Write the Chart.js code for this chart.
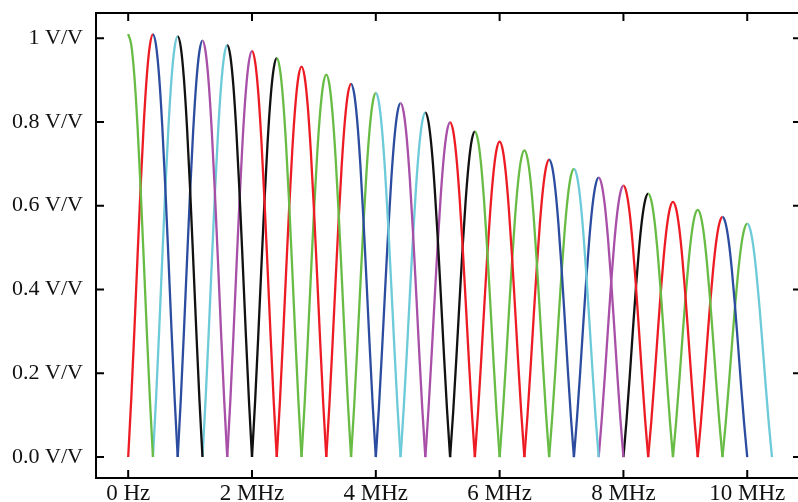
<!DOCTYPE html>
<html>
<head>
<meta charset="utf-8">
<script src="https://cdn.jsdelivr.net/npm/chart.js"></script>
<style>
  html, body { margin: 0; padding: 0; background: #fff; }
  #wrap { width: 798px; height: 502px; }
</style>
</head>
<body>
<div id="wrap"><canvas id="chart" width="798" height="502"></canvas></div>
<script>
// tick marks and labels
const xTickValues = [0, 2, 4, 6, 8, 10];
const xTickLabels = ['0 Hz', '2 MHz', '4 MHz', '6 MHz', '8 MHz', '10 MHz'];
const yTickValues = [0, 0.2, 0.4, 0.6, 0.8, 1];
const yTickLabels = ['0.0 V/V', '0.2 V/V', '0.4 V/V', '0.6 V/V', '0.8 V/V', '1 V/V'];

// center frequency of each lobe (MHz) and its peak (V/V)
const centerFreqs = [0, 0.4, 0.8, 1.2, 1.6, 2.0, 2.4, 2.8, 3.2, 3.6, 4.0, 4.4, 4.8,
  5.2, 5.6, 6.0, 6.4, 6.8, 7.2, 7.6, 8.0, 8.4, 8.8, 9.2, 9.6, 10.0];
const peakValues = [1.010, 1.009, 1.004, 0.994, 0.983, 0.969, 0.952, 0.932, 0.913,
  0.891, 0.869, 0.845, 0.822, 0.799, 0.777, 0.753, 0.732, 0.710, 0.688, 0.667,
  0.648, 0.629, 0.609, 0.590, 0.573, 0.557];

// shape of one half lobe: distance from center (MHz) -> fraction of peak
const lobeOffsets = [0, 0.05, 0.1, 0.15, 0.2, 0.25, 0.3, 0.35, 0.4];
const lobeShape = [1, 0.974, 0.900, 0.784, 0.637, 0.471, 0.300, 0.139, 0];

// colour of the left and right half of every lobe
const leftColors = ['g', 'r', 'c', 'b', 'c', 'm', 'k', 'r', 'g', 'r', 'g', 'b', 'c',
  'm', 'k', 'r', 'g', 'r', 'g', 'b', 'm', 'k', 'r', 'g', 'r', 'g'];
const rightColors = ['g', 'b', 'k', 'm', 'k', 'r', 'g', 'r', 'g', 'b', 'c', 'm', 'k',
  'r', 'g', 'r', 'g', 'b', 'c', 'm', 'r', 'g', 'r', 'g', 'b', 'c'];

const palette = {
  g: '#68bc45',
  r: '#ed1c24',
  b: '#2c4d9f',
  c: '#6dcad8',
  m: '#a84fa8',
  k: '#111111'
};

const datasets = centerFreqs.map((fc, k) => {
  const pts = [];
  if (k > 0) {
    for (let i = lobeOffsets.length - 1; i > 0; i--) {
      pts.push({ x: fc - lobeOffsets[i], y: peakValues[k] * lobeShape[i] });
    }
  }
  for (let i = 0; i < lobeOffsets.length; i++) {
    pts.push({ x: fc + lobeOffsets[i], y: peakValues[k] * lobeShape[i] });
  }
  const lc = palette[leftColors[k]];
  const rc = palette[rightColors[k]];
  return {
    data: pts,
    borderColor: rc,
    borderWidth: 2.3,
    pointRadius: 0,
    fill: false,
    cubicInterpolationMode: 'monotone',
    segment: {
      borderColor: ctx => (ctx.p0.parsed.x < fc - 1e-9 ? lc : rc)
    }
  };
});

// frame with inward ticks on all four sides
const framePlugin = {
  id: 'frame',
  afterDatasetsDraw(chart) {
    const { ctx, chartArea: a, scales } = chart;
    const right = a.right + 3;
    const len = 8;
    ctx.save();
    ctx.strokeStyle = '#000';
    ctx.lineWidth = 2;
    ctx.strokeRect(a.left, a.top, right - a.left, a.bottom - a.top);
    ctx.beginPath();
    xTickValues.forEach(v => {
      const px = scales.x.getPixelForValue(v);
      ctx.moveTo(px, a.bottom); ctx.lineTo(px, a.bottom - len);
      ctx.moveTo(px, a.top); ctx.lineTo(px, a.top + len);
    });
    yTickValues.forEach(v => {
      const py = scales.y.getPixelForValue(v);
      ctx.moveTo(a.left, py); ctx.lineTo(a.left + len, py);
      ctx.moveTo(right, py); ctx.lineTo(right - len, py);
    });
    ctx.stroke();
    ctx.restore();
  }
};

const serif = '"Liberation Serif", "Times New Roman", serif';

new Chart(document.getElementById('chart'), {
  type: 'line',
  data: { datasets },
  options: {
    responsive: false,
    animation: false,
    layout: { padding: { top: 13, right: 0, left: 0, bottom: 0 } },
    plugins: { legend: { display: false }, tooltip: { enabled: false } },
    scales: {
      x: {
        type: 'linear',
        min: -0.52,
        max: 10.82,
        grid: { display: false, drawTicks: false },
        border: { display: false },
        afterBuildTicks: axis => { axis.ticks = xTickValues.map(v => ({ value: v })); },
        afterFit: axis => {
          axis.height = 24;
          axis.paddingLeft = 0;
          axis.paddingRight = 0;
        },
        ticks: {
          autoSkip: false,
          maxRotation: 0,
          padding: 2,
          color: '#111',
          font: { family: serif, size: 23 },
          callback: (v, i) => xTickLabels[i]
        }
      },
      y: {
        type: 'linear',
        min: -0.05,
        max: 1.06,
        grid: { display: false, drawTicks: false },
        border: { display: false },
        afterBuildTicks: axis => { axis.ticks = yTickValues.map(v => ({ value: v })); },
        afterFit: axis => {
          axis.width = 96;
          axis.paddingTop = 0;
          axis.paddingBottom = 0;
        },
        ticks: {
          autoSkip: false,
          padding: 13,
          color: '#111',
          font: { family: serif, size: 22 },
          callback: (v, i) => yTickLabels[i]
        }
      }
    }
  },
  plugins: [framePlugin]
});
</script>
</body>
</html>
